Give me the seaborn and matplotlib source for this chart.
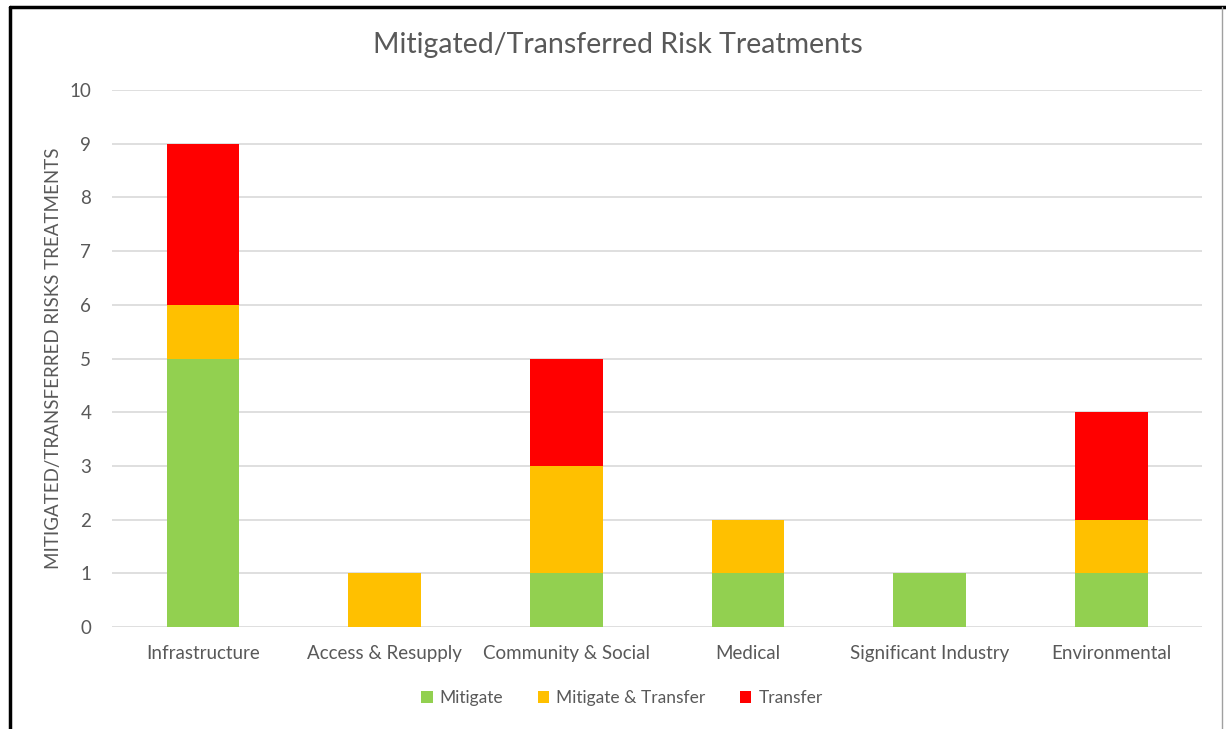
import matplotlib
matplotlib.use("Agg")
import matplotlib.pyplot as plt
from matplotlib.lines import Line2D
from matplotlib.patches import Patch
import seaborn as sns
import numpy as np

categories = ["Infrastructure", "Access & Resupply", "Community & Social", "Medical",
              "Significant Industry", "Environmental"]
mitigate = [5, 0, 1, 1, 1, 1]
mitigate_transfer = [1, 1, 2, 1, 0, 1]
transfer = [3, 0, 2, 0, 0, 2]
series_names = ["Mitigate", "Mitigate & Transfer", "Transfer"]
series_colors = ["#92D050", "#FFC000", "#FF0000"]

sns.set_theme(style="white")
plt.rcParams["font.family"] = ["Lato", "DejaVu Sans"]
txt = "#595959"

fig = plt.figure(figsize=(12.26, 7.29), dpi=100)
ax = fig.add_axes([112/1226, 1 - 627/729, (1202-112)/1226, (627-90)/729])

bottom = np.zeros(len(categories))
for name, vals, col in zip(series_names, [mitigate, mitigate_transfer, transfer], series_colors):
    sns.barplot(x=categories, y=vals, bottom=bottom, color=col, width=0.4,
                ax=ax, saturation=1, linewidth=0, zorder=3)
    bottom = bottom + np.array(vals)

ax.set_ylim(0, 10)
ax.set_xlim(-0.5, len(categories) - 0.5)
ax.set_yticks(range(0, 11))
ax.yaxis.grid(True, color="#D9D9D9", linewidth=1.2, zorder=0)
for s in ax.spines.values():
    s.set_visible(False)
ax.tick_params(axis="both", length=0, colors=txt, labelsize=13.5)
ax.tick_params(axis="x", pad=13)
ax.tick_params(axis="y", pad=15)
ax.set_ylabel("MITIGATED/TRANSFERRED RISKS TREATMENTS", color=txt, fontsize=13.5, labelpad=5)
ax.set_xlabel("")

fig.text(618/1226, 1 - 45/729, "Mitigated/Transferred Risk Treatments", ha="center", va="center",
         fontsize=20.5, color=txt)

handles = [Patch(facecolor=c, edgecolor="none") for c in series_colors]
fig.legend(handles, series_names, loc="center", bbox_to_anchor=(622/1226, 1 - 698/729), ncol=3,
           frameon=False, fontsize=12.5, handlelength=0.65, handleheight=0.65, columnspacing=2.0,
           handletextpad=0.4, labelcolor=txt)

# chart frame as seen in the screenshot
fig.add_artist(Line2D([10/1226, 10/1226], [0, 1 - 7/729], transform=fig.transFigure, color="black", linewidth=2.5))
fig.add_artist(Line2D([10/1226, 1], [1 - 7/729, 1 - 7/729], transform=fig.transFigure, color="black", linewidth=2.5))
fig.add_artist(Line2D([1222/1226, 1222/1226], [0, 1 - 7/729], transform=fig.transFigure, color="#A0A0A0", linewidth=1))

fig.savefig("out.png", dpi=100, facecolor="white")
